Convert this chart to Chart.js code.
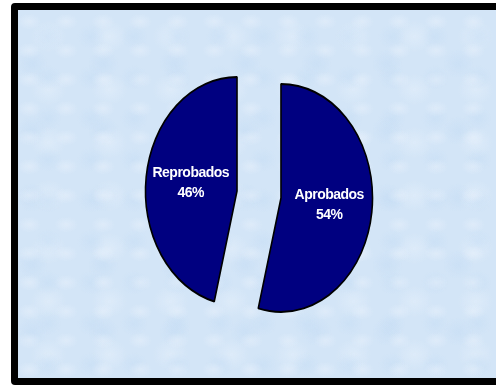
<!DOCTYPE html>
<html>
<head>
<meta charset="utf-8">
<script src="https://cdn.jsdelivr.net/npm/chart.js@4.4.0/dist/chart.umd.min.js"></script>
<style>
html,body{margin:0;padding:0;width:496px;height:385px;overflow:hidden;background:#ffffff;}
#frame{position:absolute;left:11px;top:3px;width:500px;height:368px;border:7px solid #000;border-radius:4px;
  background-color:#d3e5f7;
  background-image:
    radial-gradient(ellipse at 30% 40%, rgba(236,243,252,.45) 0, rgba(236,243,252,0) 12px),
    radial-gradient(ellipse at 70% 65%, rgba(196,220,244,.45) 0, rgba(196,220,244,0) 14px),
    radial-gradient(ellipse at 50% 50%, rgba(240,246,253,.35) 0, rgba(240,246,253,0) 18px),
    radial-gradient(ellipse at 20% 80%, rgba(192,217,243,.4) 0, rgba(192,217,243,0) 16px);
  background-size: 37px 29px, 43px 41px, 61px 53px, 71px 67px;
}
#c{position:absolute;left:0;top:0;}
</style>
</head>
<body>
<div id="frame"></div>
<canvas id="c" width="496" height="385"></canvas>
<script>
// ---- data ----
const categories = ['Aprobados', 'Reprobados'];
const values = [54, 46];

// ---- styling constants ----
const X_SCALE = 0.803;   // horizontal squash of the pie (ellipse)
const EXPLODE = 27.6;    // slice explosion distance
const LABEL_F = 0.52;    // label position as fraction of radius

const total = values.reduce((a, b) => a + b, 0);

const ellipsePie = {
  id: 'ellipsePie',
  beforeDatasetsDraw(chart) {
    const meta = chart.getDatasetMeta(0);
    const a0 = meta.data[0];
    const cx = a0.x, cy = a0.y;
    chart.$pc = {cx, cy};
    const ctx = chart.ctx;
    ctx.save();
    ctx.translate(cx, cy);
    ctx.scale(X_SCALE, 1);
    ctx.translate(-cx, -cy);
    meta.data.forEach(a => {
      const m = (a.startAngle + a.endAngle) / 2;
      a.$ox = a.x; a.$oy = a.y;
      a.x = cx + Math.cos(m) * EXPLODE;
      a.y = cy + Math.sin(m) * EXPLODE;
    });
  },
  afterDatasetsDraw(chart) {
    const meta = chart.getDatasetMeta(0);
    const ctx = chart.ctx;
    meta.data.forEach(a => { a.x = a.$ox; a.y = a.$oy; });
    ctx.restore();
    const {cx, cy} = chart.$pc;
    ctx.save();
    ctx.fillStyle = '#ffffff';
    ctx.font = 'bold 14px "Liberation Sans", Arial, sans-serif';
    ctx.letterSpacing = '-0.5px';
    ctx.textAlign = 'center';
    ctx.textBaseline = 'middle';
    meta.data.forEach((a, i) => {
      const m = (a.startAngle + a.endAngle) / 2;
      const r = a.outerRadius * LABEL_F + EXPLODE;
      const x = cx + Math.cos(m) * r * X_SCALE;
      const y = cy + Math.sin(m) * r;
      const pct = Math.round(values[i] / total * 100) + '%';
      ctx.fillText(categories[i], x + 1, y - 10);
      ctx.fillText(pct, x + 1, y + 10);
    });
    ctx.restore();
  }
};

new Chart(document.getElementById('c'), {
  type: 'pie',
  data: {
    labels: categories,
    datasets: [{
      data: values,
      backgroundColor: '#000080',
      borderColor: '#000000',
      borderWidth: 2
    }]
  },
  options: {
    responsive: false,
    animation: false,
    events: [],
    radius: 114,
    layout: { padding: { left: 22, top: 4, right: 0, bottom: 0 } },
    plugins: { legend: { display: false }, tooltip: { enabled: false } }
  },
  plugins: [ellipsePie]
});
</script>
</body>
</html>
